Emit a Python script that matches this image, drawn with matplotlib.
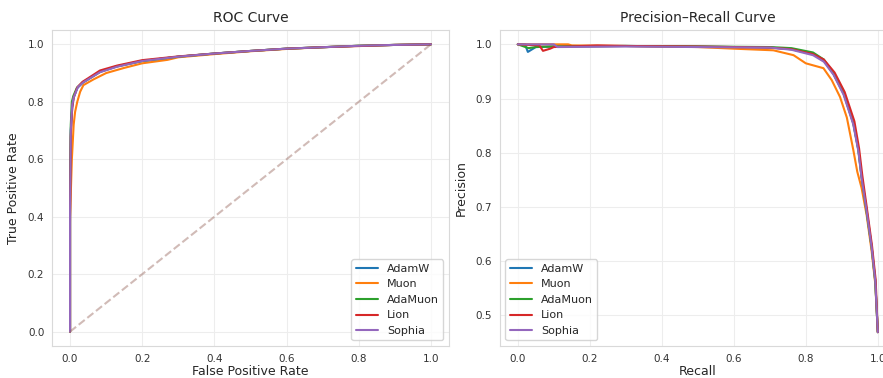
"""ROC and precision-recall curves for five optimizers."""

import matplotlib
matplotlib.use('Agg')
import matplotlib.pyplot as plt
import seaborn as sns


OPTIMIZERS = ['AdamW', 'Muon', 'AdaMuon', 'Lion', 'Sophia']
COLORS = ['tab:blue', 'tab:orange', 'tab:green', 'tab:red', 'tab:purple']

# ROC curves (false positive rate, true positive rate)
ROC_FPR = {
    'AdamW':   [0.0, 0.0, 0.002, 0.006, 0.010, 0.020, 0.035, 0.050, 0.083, 0.13, 0.20, 0.30, 0.40, 0.50, 0.60, 0.70, 0.80, 0.90, 1.0],
    'Muon':    [0.0, 0.0, 0.005, 0.010, 0.014, 0.020, 0.028, 0.037, 0.065, 0.10, 0.15, 0.20, 0.27, 0.30, 0.40, 0.50, 0.60, 0.70, 0.80, 0.90, 1.0],
    'AdaMuon': [0.0, 0.0, 0.002, 0.005, 0.009, 0.019, 0.035, 0.050, 0.083, 0.13, 0.20, 0.30, 0.40, 0.50, 0.60, 0.70, 0.80, 0.90, 1.0],
    'Lion':    [0.0, 0.0, 0.002, 0.006, 0.010, 0.020, 0.035, 0.050, 0.083, 0.13, 0.20, 0.30, 0.40, 0.50, 0.60, 0.70, 0.80, 0.90, 1.0],
    'Sophia':  [0.0, 0.0, 0.002, 0.006, 0.010, 0.022, 0.037, 0.050, 0.083, 0.13, 0.20, 0.30, 0.40, 0.50, 0.60, 0.70, 0.80, 0.90, 1.0],
}
ROC_TPR = {
    'AdamW':   [0.0, 0.45, 0.70, 0.78, 0.815, 0.848, 0.866, 0.878, 0.904, 0.923, 0.942, 0.957, 0.968, 0.977, 0.985, 0.990, 0.995, 0.998, 1.0],
    'Muon':    [0.0, 0.40, 0.600, 0.72, 0.765, 0.800, 0.835, 0.858, 0.878, 0.900, 0.918, 0.934, 0.946, 0.955, 0.966, 0.976, 0.984, 0.990, 0.995, 0.998, 1.0],
    'AdaMuon': [0.0, 0.50, 0.72, 0.80, 0.820, 0.849, 0.868, 0.879, 0.905, 0.924, 0.942, 0.957, 0.968, 0.977, 0.985, 0.990, 0.995, 0.998, 1.0],
    'Lion':    [0.0, 0.38, 0.68, 0.78, 0.815, 0.850, 0.870, 0.882, 0.909, 0.926, 0.945, 0.958, 0.968, 0.977, 0.985, 0.990, 0.994, 0.998, 1.0],
    'Sophia':  [0.0, 0.42, 0.70, 0.79, 0.815, 0.852, 0.868, 0.878, 0.903, 0.922, 0.942, 0.957, 0.968, 0.977, 0.985, 0.990, 0.995, 0.998, 1.0],
}

# Precision-recall curves (recall, precision)
PR_RECALL = {
    'AdamW':   [0.0, 0.02, 0.028, 0.05, 0.10, 0.30, 0.50, 0.70, 0.76, 0.82, 0.85, 0.877, 0.905, 0.932, 0.946, 0.955, 0.969, 0.983, 0.993, 1.0],
    'Muon':    [0.0, 0.14, 0.15, 0.30, 0.50, 0.60, 0.71, 0.766, 0.80, 0.849, 0.872, 0.895, 0.914, 0.932, 0.943, 0.955, 0.969, 0.983, 0.993, 1.0],
    'AdaMuon': [0.0, 0.03, 0.05, 0.10, 0.30, 0.50, 0.70, 0.76, 0.82, 0.85, 0.877, 0.905, 0.932, 0.946, 0.955, 0.969, 0.983, 0.993, 1.0],
    'Lion':    [0.0, 0.06, 0.07, 0.09, 0.10, 0.22, 0.30, 0.50, 0.70, 0.76, 0.82, 0.85, 0.880, 0.908, 0.935, 0.948, 0.957, 0.970, 0.984, 0.994, 1.0],
    'Sophia':  [0.0, 0.10, 0.11, 0.30, 0.50, 0.70, 0.76, 0.82, 0.85, 0.877, 0.905, 0.932, 0.946, 0.955, 0.969, 0.983, 0.993, 1.0],
}
PR_PRECISION = {
    'AdamW':   [1.0, 1.0, 0.986, 0.995, 0.996, 0.997, 0.996, 0.994, 0.991, 0.982, 0.970, 0.945, 0.909, 0.854, 0.805, 0.755, 0.694, 0.626, 0.564, 0.469],
    'Muon':    [1.0, 1.0, 0.998, 0.997, 0.995, 0.992, 0.989, 0.980, 0.965, 0.956, 0.934, 0.903, 0.865, 0.805, 0.765, 0.735, 0.685, 0.618, 0.558, 0.469],
    'AdaMuon': [1.0, 0.993, 0.995, 0.996, 0.997, 0.996, 0.995, 0.993, 0.985, 0.972, 0.947, 0.911, 0.855, 0.806, 0.756, 0.690, 0.625, 0.562, 0.469],
    'Lion':    [1.0, 0.998, 0.988, 0.992, 0.995, 0.998, 0.997, 0.996, 0.994, 0.991, 0.982, 0.972, 0.948, 0.912, 0.858, 0.808, 0.758, 0.696, 0.628, 0.566, 0.469],
    'Sophia':  [1.0, 1.0, 0.995, 0.996, 0.995, 0.994, 0.990, 0.980, 0.968, 0.944, 0.907, 0.852, 0.803, 0.753, 0.692, 0.625, 0.563, 0.469],
}


sns.set_style('whitegrid', {'axes.edgecolor': '.85', 'grid.color': '.93'})
plt.rcParams['font.family'] = ['DejaVu Sans']

fig = plt.figure(figsize=(8.83, 3.78), dpi=100)
ax1 = fig.add_axes([0.0589, 0.0847, 0.4496, 0.836])
ax2 = fig.add_axes([0.566, 0.0847, 0.4485, 0.836])

# ROC panel
for name, color in zip(OPTIMIZERS, COLORS):
    ax1.plot(ROC_FPR[name], ROC_TPR[name], color=color, lw=1.5, label=name)
ax1.plot([0, 1], [0, 1], '--', color='tab:brown', alpha=0.4, lw=1.5)
ax1.set_xlim(-0.05, 1.05)
ax1.set_ylim(-0.05, 1.05)
ax1.set_title('ROC Curve', fontsize=10)
ax1.set_xlabel('False Positive Rate', fontsize=9, labelpad=1)
ax1.set_ylabel('True Positive Rate', fontsize=9, labelpad=6)
ax1.legend(loc='lower right', fontsize=8, frameon=True)

# Precision-recall panel
for name, color in zip(OPTIMIZERS, COLORS):
    ax2.plot(PR_RECALL[name], PR_PRECISION[name], color=color, lw=1.5, label=name)
ax2.set_xlim(-0.05, 1.05)
ax2.set_ylim(0.4435, 1.0265)
ax2.set_title('Precision\u2013Recall Curve', fontsize=10)
ax2.set_xlabel('Recall', fontsize=9, labelpad=1)
ax2.set_ylabel('Precision', fontsize=9, labelpad=6)
ax2.legend(loc='lower left', fontsize=8, frameon=True)

for ax in (ax1, ax2):
    ax.tick_params(labelsize=7.5, colors='.2', pad=2)

fig.savefig('out.png', dpi=100)
